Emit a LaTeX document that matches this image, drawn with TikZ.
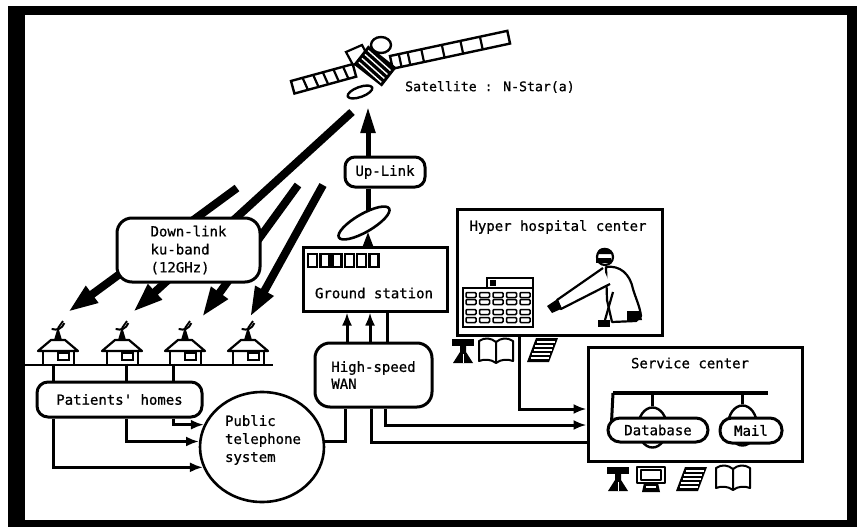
\documentclass[tikz,border=0pt]{standalone}
\usepackage{fontspec}
\newfontfamily\diagfont[FakeBold=0.8]{DejaVu Sans Mono}
\usetikzlibrary{arrows.meta,shapes.geometric,calc}
\begin{document}
\begin{tikzpicture}[x=1pt,y=-1pt,
  txt/.style={font=\diagfont\fontsize{14}{17.5}\selectfont, inner sep=0pt},
  boxed/.style={draw, line width=3pt, fill=white, inner sep=0pt},
  conn/.style={line width=3pt},
  arr/.style={-{Latex[length=13pt,width=10pt]}},
  dlbeam/.style={line width=8pt, -{Triangle[length=30pt,width=19pt]}},
  icon/.style={line width=2pt, line join=round},
  tripod/.pic={
    \fill (0,0) rectangle (22,7);
    \fill (8,7) -- (14,7) -- (14,13) -- (21,24) -- (1,24) -- (8,13) -- cycle;
    \draw[white, line width=1pt] (11,15) -- (11,24);
  },
  book/.pic={
    \draw[icon] (0,3) .. controls (6,-1) and (12,0) .. (17,4) -- (17,25)
      .. controls (12,21) and (5,21) .. (0,23) -- cycle;
    \draw[icon] (17,4) .. controls (22,0) and (28,-1) .. (34,3) -- (34,23)
      .. controls (29,21) and (22,21) .. (17,25);
  },
  sheet/.pic={
    \fill (9,0) -- (31,0) -- (22,24) -- (0,24) -- cycle;
    \foreach \r in {4,8,12,16,20}
      \draw[white, line width=1.2pt] (9-\r*0.375+2,\r) -- (29-\r*0.375,\r);
  },
  monitor/.pic={
    \draw[icon, fill=white] (0,0) rectangle (28,16);
    \draw[icon] (4,3) rectangle (24,13);
    \fill (7,16) -- (21,16) -- (23,25) -- (5,25) -- cycle;
    \fill[white] (9,19) rectangle (19,21);
  },
]
\useasboundingbox (0,0) rectangle (857,527);

% sheet and heavy border
\fill[white] (0,0) rectangle (857,527);
\fill[black] (8,6) rectangle (857,527);
\fill[white] (25,15) rectangle (847,520);

% ---------- satellite ----------
\begin{scope}[shift={(291,81)}, rotate=15.3]
  \draw[line width=2.4pt, fill=white] (0,0) rectangle (64,13);
  \foreach \u in {12,23,33,44,54} \draw[line width=2.2pt] (\u,0) -- (\u+2,13);
\end{scope}
\begin{scope}[shift={(390,56)}, rotate=12.1]
  \draw[line width=2.4pt, fill=white] (0,0) rectangle (120,13);
  \foreach \u in {9,18,32,53,72,92} \draw[line width=2.2pt] (\u,0) -- (\u,13);
\end{scope}
\draw[line width=2.2pt, fill=white] (346,52) -- (362,45) -- (369,58) -- (353,65) -- cycle;
\begin{scope}[shift={(375,66)}, rotate=-38]
  \fill (-18,-12) rectangle (18,12);
  \foreach \v in {-8,-3,2,7} \draw[white, line width=1.4pt] (-15,\v) -- (15,\v+2);
\end{scope}
\draw[line width=2.4pt, fill=white] (381,45) ellipse [x radius=10, y radius=8];
\draw[line width=2.4pt, fill=white, rotate around={20:(360,92)}] (360,92) ellipse [x radius=13, y radius=5];
\node[txt, font=\diagfont\fontsize{13.2}{16}\selectfont, anchor=west] (satname) at (405,87) {Satellite : N-Star(a)};

% ---------- down-link beams ----------
\coordinate (tx1) at (237,188); \coordinate (rx1) at (68,312);
\coordinate (tx2) at (352,112); \coordinate (rx2) at (133,312);
\coordinate (tx3) at (298,185); \coordinate (rx3) at (202,317);
\coordinate (tx4) at (323,185); \coordinate (rx4) at (250,317);
\foreach \k in {1,2,3,4} \draw[dlbeam] (tx\k) -- (rx\k);

\node[boxed, rounded corners=15pt, minimum width=143pt, minimum height=64pt,
      txt, align=left, font=\diagfont\fontsize{14}{18}\selectfont] (down) at (188.5,250)
  {Down-link\\ku-band\\(12GHz)};

% ---------- houses ----------
\coordinate (gl1) at (25,365); \coordinate (gl2) at (273,365);
\draw[line width=2.6pt] (gl1) -- (gl2);
\foreach \cx in {58,122,185,248}{
  \draw[line width=2.2pt, fill=white] (\cx-15,350) rectangle (\cx+16,365);
  \draw[line width=2.2pt, fill=white, line join=round]
    (\cx-20,351) -- (\cx-7,340) -- (\cx+7,340) -- (\cx+20,351) -- cycle;
  \draw[line width=2pt] (\cx,353) rectangle (\cx+11,360);
  \fill (\cx-4,340) -- (\cx+4,340) -- (\cx+1,330) -- (\cx-1,330) -- cycle;
  \draw[line width=2pt, rotate around={25:(\cx,326)}] (\cx-7,326) .. controls (\cx-3,330) and (\cx+3,330) .. (\cx+7,326);
  \draw[line width=1.8pt] (\cx,328) -- (\cx+5,321);
}

% ---------- patients' homes and telephone ----------
\node[boxed, rounded corners=11pt, minimum width=165pt, minimum height=35pt, txt]
  (pat) at (119.5,399.5) {Patients' homes};
\node[draw, ellipse, line width=2.6pt, fill=white, minimum width=124pt, minimum height=110pt, inner sep=0pt]
  (tel) at (262,447) {};
\node[txt, align=left, font=\diagfont\fontsize{14}{18}\selectfont] (telname) at (263,440)
  {Public\\telephone\\system};

\foreach \dx in {-66.5,6.5,53.5}
  \draw[conn] ($(pat.north)+(\dx,-17)$) -- ($(pat.north)+(\dx,0)$);
\draw[conn,arr] ($(pat.south)+(53.5,0)$) |- (tel.159);
\draw[conn,arr] ($(pat.south)+(6.5,0)$) |- (tel.175);
\draw[conn,arr] ($(pat.south)+(-66.5,0)$) |- (tel.199);

% ---------- ground station, WAN, up-link ----------
\node[boxed, minimum width=144pt, minimum height=64pt] (gs) at (375,279) {};
\node[txt] (gsname) at (374,293) {Ground station};
\foreach \i in {0,...,5}
  \draw[line width=2.4pt] (308+\i*12.3,254) rectangle (317+\i*12.3,267);

\node[boxed, rounded corners=15pt, minimum width=117pt, minimum height=64pt,
      txt, align=left, font=\diagfont\fontsize{14}{17}\selectfont] (wan) at (373.5,375)
  {High-speed\\WAN};

\draw[conn,arr] ($(wan.north)+(-26.5,0)$) -- ($(gs.south)+(-28,0)$);
\draw[conn,arr] ($(wan.north)+(-3.5,0)$) -- ($(gs.south)+(-5,0)$);
\draw[conn] ($(wan.north)+(13.5,0)$) -- ($(gs.south)+(12,0)$);
\draw[conn] (tel.5) -| ($(wan.south)+(-28.5,0)$);

\node[draw, ellipse, line width=2.6pt, fill=white, minimum width=58pt, minimum height=18pt,
      inner sep=0pt, rotate=30] (dish) at (364,223) {};
\draw[line width=3pt, -{Triangle[length=16pt,width=11pt]}] ($(gs.north)+(-7,0)$) -- ($(dish.center)+(4,9)$);
\node[boxed, rounded corners=10pt, minimum width=80pt, minimum height=30pt, txt] (up) at (385,172) {Up-Link};
\draw[line width=5pt] ($(dish.center)+(4,-12)$) -- ($(up.south)+(-17,0)$);
\coordinate (satUp) at (368,107);
\draw[line width=5pt, -{Triangle[length=26pt,width=14pt]}] ($(up.north)+(-17,0)$) -- (satUp);

% ---------- hyper hospital center ----------
\node[boxed, minimum width=205pt, minimum height=126pt] (hosp) at (559.5,272) {};
\node[txt] (hospname) at (558,227) {Hyper hospital center};
\draw[line width=2.2pt, fill=white] (487,278) rectangle (533,288);
\fill (490,280) rectangle (496,286);
\draw[line width=2.2pt, fill=white] (463,288) rectangle (533,327);
\foreach \c in {0,...,4}
  \foreach \r in {295,302,312,320}
    \draw[line width=1.5pt, rounded corners=1pt] (466+\c*13.5,\r-2.5) rectangle (476+\c*13.5,\r+2.5);
% physician at the console
\begin{scope}[line width=2.2pt, line join=round]
  \draw[fill=white] (606,267) .. controls (620,265) and (630,274) .. (633,289)
    .. controls (636,299) and (640,307) .. (641,316) -- (636,321) -- (612,322) -- (607,300) -- cycle;
  \draw[fill=white] (603,268) -- (557,300) -- (561,309) -- (610,284);
  \fill (547,306) -- (556,300) -- (561,309) -- (552,313) -- cycle;
  \draw[fill=white] (605,257) circle (8);
  \fill (597,253) .. controls (599,246) and (610,246) .. (613,254) -- (597,254) -- cycle;
  \fill (596,258) rectangle (611,263);
  \draw (613,292) -- (605,320);
  \fill (598,320) rectangle (610,327);
  \fill (627,311) -- (640,311) -- (642,320) -- (627,321) -- cycle;
\end{scope}
\pic at (452,339) {tripod};
\pic at (479,338) {book};
\pic at (527,338) {sheet};

% ---------- service center ----------
\node[boxed, minimum width=214pt, minimum height=114pt] (svc) at (695,404) {};
\node[txt] (svcname) at (690,363) {Service center};
\coordinate (busL) at (613,393); \coordinate (busR) at (768,393);
\node[draw, ellipse, line width=2.4pt, fill=white, minimum width=29pt, minimum height=40pt, inner sep=0pt]
  (dbcap) at (652.5,427.5) {};
\node[draw, ellipse, line width=2.4pt, fill=white, minimum width=29pt, minimum height=40pt, inner sep=0pt]
  (mlcap) at (742.5,425.5) {};
\node[boxed, rounded corners=12pt, minimum width=100pt, minimum height=24pt, txt] (db) at (658,430) {Database};
\node[boxed, rounded corners=12pt, minimum width=62pt, minimum height=25pt, txt] (mail) at (751,430.5) {Mail};
\draw[line width=3.2pt] (busL) -- (busR);
\draw[line width=3pt] (busL) -- ($(db.north west)+(5,6)$);
\draw[line width=3pt] (dbcap.north |- busL) -- (dbcap.north);
\draw[line width=3pt] (mlcap.north |- busL) -- (mlcap.north);
\pic at (607,467) {tripod};
\pic at (637,467) {monitor};
\pic at (676,467) {sheet};
\pic at (716,465) {book};

% ---------- links into the service center ----------
\draw[conn,arr] ($(hosp.south)+(-40.5,0)$) |- ($(svc.west)+(0,5)$);
\draw[conn,arr] ($(wan.south)+(11.5,0)$) |- ($(svc.west)+(0,21)$);
\draw[conn] ($(wan.south)+(-2.5,0)$) |- ($(svc.west)+(0,38)$);

\end{tikzpicture}
\end{document}
